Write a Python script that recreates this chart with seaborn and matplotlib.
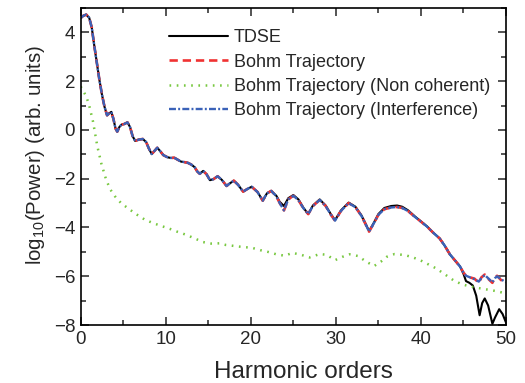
import numpy as np
import pandas as pd
import matplotlib
matplotlib.use("Agg")
import matplotlib.pyplot as plt
from matplotlib.ticker import MultipleLocator
import seaborn as sns

# Harmonic spectra: log10(power) against harmonic order
tdse_x = [0.0, 0.3, 0.65, 1.0, 1.3, 1.6, 1.9, 2.2, 2.5, 2.8, 3.1, 3.35, 3.6, 3.85,
          4.1, 4.3, 4.55, 4.8, 5.1, 5.5, 5.8, 6.1, 6.4, 6.8, 7.3, 7.7, 8.0, 8.35,
          8.7, 9.0, 9.35, 9.7, 10.2, 10.6, 11.0, 11.4, 11.8, 12.2, 12.6, 13.0,
          13.4, 13.7, 14.0, 14.4, 14.8, 15.2, 15.6, 16.1, 16.6, 17.15, 17.5, 18.0,
          18.5, 19.1, 19.6, 20.1, 20.8, 21.4, 21.9, 22.4, 23.0, 23.4, 23.9, 24.4,
          25.0, 25.6, 26.2, 26.75, 27.3, 28.1, 28.8, 29.4, 29.9, 30.6, 31.5, 32.3,
          33.0, 33.5, 33.9, 34.4, 35.0, 35.7, 36.5, 37.2, 37.8, 38.5, 39.3, 40.0,
          40.7, 41.4, 42.2, 42.8, 43.4, 44.0, 44.6, 45.0, 45.3, 45.7, 46.1, 46.5,
          46.9, 47.2, 47.5, 47.9, 48.4, 48.7, 49.2, 49.6, 50.0]
tdse_y = [4.59, 4.68, 4.73, 4.6, 4.2, 3.45, 2.75, 2.05, 1.45, 0.95, 0.6, 0.68, 0.74, 0.45,
          0.05, -0.07, 0.12, 0.22, 0.24, 0.31, 0.12, -0.25, -0.45, -0.4, -0.37, -0.5, -0.75, -0.99,
          -0.85, -0.73, -0.87, -1.03, -1.12, -1.15, -1.14, -1.22, -1.3, -1.32, -1.35, -1.42,
          -1.53, -1.7, -1.8, -1.68, -1.82, -2.06, -2.02, -1.9, -2.05, -2.3, -2.2, -2.08,
          -2.25, -2.53, -2.42, -2.33, -2.55, -2.9, -2.6, -2.5, -2.7, -2.95, -3.12, -2.8,
          -2.67, -2.85, -3.2, -3.45, -3.1, -2.85, -3.1, -3.45, -3.7, -3.3, -2.98, -3.15,
          -3.5, -3.85, -4.15, -3.85, -3.45, -3.2, -3.12, -3.1, -3.15, -3.3, -3.55, -3.75,
          -3.95, -4.2, -4.45, -4.75, -5.1, -5.35, -5.6, -5.9, -6.2, -6.27, -6.38, -6.8,
          -7.6, -7.1, -6.91, -7.2, -7.95, -7.7, -7.35, -7.55, -7.9]

bohm_x = [0.0, 0.3, 0.65, 1.0, 1.3, 1.6, 1.9, 2.2, 2.5, 2.8, 3.1, 3.35, 3.6, 3.85,
          4.1, 4.3, 4.55, 4.8, 5.1, 5.5, 5.8, 6.1, 6.4, 6.8, 7.3, 7.7, 8.0, 8.35,
          8.7, 9.0, 9.35, 9.7, 10.2, 10.6, 11.0, 11.4, 11.8, 12.2, 12.6, 13.0,
          13.4, 13.7, 14.0, 14.4, 14.8, 15.2, 15.6, 16.1, 16.6, 17.15, 17.5, 18.0,
          18.5, 19.1, 19.6, 20.1, 20.8, 21.4, 21.9, 22.4, 23.0, 23.4, 23.9, 24.4,
          25.0, 25.6, 26.2, 26.75, 27.3, 28.1, 28.8, 29.4, 29.9, 30.6, 31.5, 32.3,
          33.0, 33.5, 33.9, 34.4, 35.0, 35.7, 36.5, 37.2, 37.8, 38.5, 39.3, 40.0,
          40.7, 41.4, 42.2, 42.8, 43.4, 44.0, 44.6, 45.0, 45.3, 45.8, 46.3, 46.8,
          47.1, 47.5, 47.9, 48.4, 48.7, 48.95, 49.4, 50.0]
bohm_y = [4.59, 4.68, 4.73, 4.6, 4.2, 3.45, 2.75, 2.05, 1.45, 0.95, 0.6, 0.68, 0.74, 0.45,
          0.05, -0.07, 0.12, 0.22, 0.24, 0.31, 0.12, -0.25, -0.45, -0.4, -0.37, -0.5, -0.75, -0.99,
          -0.85, -0.73, -0.87, -1.03, -1.12, -1.15, -1.14, -1.22, -1.3, -1.32, -1.35, -1.42,
          -1.53, -1.7, -1.8, -1.68, -1.82, -2.06, -2.02, -1.9, -2.05, -2.3, -2.2, -2.08,
          -2.25, -2.53, -2.42, -2.33, -2.55, -2.9, -2.6, -2.5, -2.72, -3.0, -3.3, -2.85,
          -2.7, -2.88, -3.22, -3.45, -3.12, -2.87, -3.12, -3.47, -3.72, -3.32, -3.0, -3.17,
          -3.52, -3.87, -4.17, -3.87, -3.48, -3.25, -3.18, -3.16, -3.2, -3.33, -3.57, -3.76,
          -3.96, -4.2, -4.45, -4.75, -5.1, -5.35, -5.6, -5.85, -5.98, -6.05, -6.1, -6.27,
          -6.05, -5.93, -6.1, -6.27, -6.05, -5.98, -6.15, -6.3]

interf_x = bohm_x
interf_y = bohm_y[:-14] + [-5.6, -5.85, -5.98, -6.05, -6.12, -6.22,
                           -6.08, -5.95, -6.08, -6.25, -6.08, -6.0, -6.12, -6.25]

noncoh_x = [0.0, 0.3, 0.66, 1.0, 1.45, 1.95, 2.42, 3.0, 3.5, 4.0, 4.77, 5.75, 6.5,
            7.5, 8.5, 9.5, 10.5, 11.4, 12.4, 13.4, 14.4, 15.35, 16.3, 17.1, 18.1,
            19.0, 20.1, 21.1, 22.0, 23.0, 24.0, 24.9, 26.0, 26.9, 28.1, 28.9, 29.9,
            30.8, 31.6, 32.6, 33.6, 34.5, 35.3, 36.0, 36.9, 38.1, 39.0, 39.9, 40.8,
            41.8, 42.8, 43.8, 44.8, 45.7, 46.7, 47.7, 48.7, 49.7, 50.0]
noncoh_y = [1.78, 1.6, 1.37, 1.0, 0.34, -0.66, -1.37, -2.05, -2.45, -2.71, -3.01, -3.26, -3.45,
            -3.67, -3.82, -3.94, -4.06, -4.18, -4.3, -4.45, -4.6, -4.66, -4.65, -4.72, -4.76,
            -4.8, -4.83, -4.93, -5.0, -5.1, -5.16, -5.04, -5.13, -5.23, -5.09, -5.12, -5.34,
            -5.2, -5.1, -5.17, -5.41, -5.58, -5.4, -5.2, -5.09, -5.13, -5.22, -5.34, -5.5,
            -5.68, -5.92, -6.16, -6.33, -6.41, -6.48, -6.54, -6.6, -6.68, -6.7]

sns.set_style("ticks")
plt.rcParams["font.family"] = ["Liberation Sans", "DejaVu Sans"]
plt.rcParams["mathtext.fontset"] = "custom"
plt.rcParams["mathtext.rm"] = "Liberation Sans"
plt.rcParams["mathtext.it"] = "Liberation Sans:italic"
plt.rcParams["lines.scale_dashes"] = False
plt.rcParams["lines.solid_joinstyle"] = "round"
plt.rcParams["lines.dash_joinstyle"] = "round"

fig = plt.figure(figsize=(5.25, 3.83), dpi=100)
ax = fig.add_axes([0.1537, 0.1514, 0.8101, 0.8277])

sns.lineplot(x=tdse_x, y=tdse_y, ax=ax, color="black", lw=1.5, label="TDSE",
             sort=False, estimator=None)
sns.lineplot(x=bohm_x, y=bohm_y, ax=ax, color="#f03232", lw=1.9,
             linestyle=(0, (6, 3.5)), label="Bohm Trajectory", sort=False, estimator=None)
sns.lineplot(x=noncoh_x, y=noncoh_y, ax=ax, color="#78c840", lw=1.8,
             linestyle=(0, (1.2, 4)), label="Bohm Trajectory (Non coherent)",
             sort=False, estimator=None)
sns.lineplot(x=interf_x, y=interf_y, ax=ax, color="#3a62b8", lw=1.7,
             linestyle=(0, (5, 1.6, 1.4, 1.6)), label="Bohm Trajectory (Interference)",
             sort=False, estimator=None)

ax.set_xlim(0, 50)
ax.set_ylim(-8, 5)
ax.xaxis.set_major_locator(MultipleLocator(10))
ax.xaxis.set_minor_locator(MultipleLocator(5))
ax.yaxis.set_major_locator(MultipleLocator(2))
ax.yaxis.set_minor_locator(MultipleLocator(1))
ax.tick_params(which="both", direction="in", top=True, right=True,
               width=1.1, labelsize=13.5, pad=4)
ax.tick_params(which="major", length=6)
ax.tick_params(which="minor", length=3.5)
for s in ax.spines.values():
    s.set_visible(True)
    s.set_linewidth(1.2)
    s.set_color("black")

ax.set_xlabel("Harmonic orders", fontsize=17.5)
ax.xaxis.set_label_coords(0.523, -0.115)
ax.set_ylabel(r"log$_{10}$(Power) (arb. units)", fontsize=14.8)
ax.yaxis.set_label_coords(-0.08, 0.535)

ax.legend(loc="upper left", bbox_to_anchor=(0.19, 0.955), frameon=False,
          fontsize=13, handlelength=3.3, handletextpad=0.3, labelspacing=0.4,
          borderaxespad=0)

fig.savefig("out.png", dpi=100)
